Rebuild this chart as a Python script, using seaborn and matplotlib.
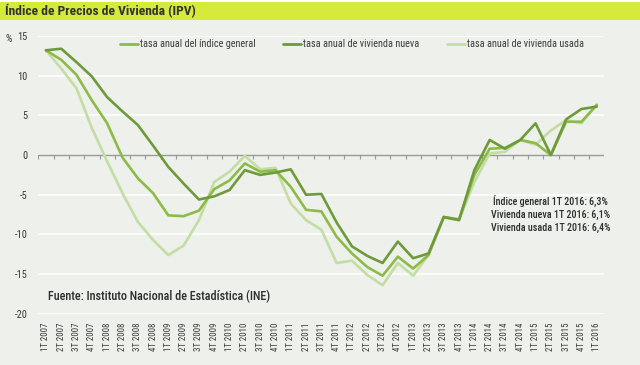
import os
import matplotlib
matplotlib.use("Agg")
import matplotlib.pyplot as plt
from matplotlib.lines import Line2D
from matplotlib.patches import Rectangle
from matplotlib import font_manager
from matplotlib.font_manager import FontProperties
import numpy as np
import pandas as pd
import seaborn as sns

# ---------------- data ----------------
quarters = [f"{q}T {y}" for y in range(2007, 2017) for q in (1, 2, 3, 4)][:37]

general = [13.2, 12.0, 10.1, 6.9, 4.0, -0.3, -2.9, -4.8, -7.6, -7.7, -7.0, -4.3,
           -3.2, -1.05, -2.1, -1.9, -4.0, -6.9, -7.1, -10.3, -12.4, -14.1, -15.2, -12.8,
           -14.3, -12.6, -7.8, -8.1, -2.5, 0.8, 0.9, 1.9, 1.5, 0.0, 4.2, 4.2, 6.3]
nueva = [13.2, 13.4, 11.7, 9.9, 7.3, 5.5, 3.8, 1.2, -1.5, -3.6, -5.6, -5.2,
         -4.4, -1.9, -2.5, -2.2, -1.8, -5.0, -4.9, -8.5, -11.5, -12.7, -13.6, -10.9,
         -13.0, -12.4, -7.8, -8.2, -1.9, 1.9, 0.8, 1.9, 4.0, 0.0, 4.5, 5.8, 6.1]
usada = [13.2, 10.9, 8.4, 3.4, -0.8, -4.8, -8.4, -10.7, -12.6, -11.4, -8.2, -3.4,
         -2.1, -0.1, -1.8, -1.6, -6.1, -8.2, -9.4, -13.6, -13.3, -15.1, -16.4, -13.6,
         -15.2, -12.6, -7.9, -8.2, -3.4, 0.2, 0.4, 1.9, 1.3, 3.1, 4.4, 4.0, 6.4]

series_names = ["tasa anual del índice general", "tasa anual de vivienda nueva",
                "tasa anual de vivienda usada"]
yticks = [-20, -15, -10, -5, 0, 5, 10, 15]
title = "Índice de Precios de Vivienda (IPV)"
source = "Fuente: Instituto Nacional de Estadística (INE)"
note = "Índice general 1T 2016: 6,3%\nVivienda nueva 1T 2016: 6,1%\nVivienda usada 1T 2016: 6,4%"

# ---------------- style ----------------
BG = "#EEF0EC"
C_GEN = "#8CBB48"
C_NEW = "#6E9A3A"
C_OLD = "#C3DDA3"
TXT = "#3A3A3A"

sns.set_theme(style="white")
plt.rcParams["font.family"] = ["Roboto", "DejaVu Sans"]

# look for a condensed font file
files = {os.path.basename(f.fname): f.fname for f in font_manager.fontManager.ttflist}
def pick(names):
    for n in names:
        if n in files:
            return files[n]
    return None

reg_path = pick(["LiberationSansNarrow-Regular.ttf", "NotoSans-Condensed.ttf",
                 "NotoSans-CondensedRegular.ttf", "RobotoCondensed-Regular.ttf",
                 "DejaVuSansCondensed.ttf"])
bold_path = pick(["LiberationSansNarrow-Bold.ttf", "NotoSans-CondensedBold.ttf",
                  "RobotoCondensed-Bold.ttf", "DejaVuSansCondensed-Bold.ttf"])
med_path = pick(["NotoSans-CondensedMedium.ttf", "NotoSans-CondensedSemiBold.ttf",
                 "RobotoCondensed-Medium.ttf"]) or reg_path

def fp(size, kind="reg"):
    path = {"reg": reg_path, "bold": bold_path, "med": med_path}[kind]
    if path:
        return FontProperties(fname=path, size=size)
    return FontProperties(family=["Roboto", "DejaVu Sans"], size=size * 0.85,
                          weight="bold" if kind == "bold" else ("medium" if kind == "med" else "normal"))

df = pd.DataFrame({"q": np.arange(len(quarters)), "general": general,
                   "nueva": nueva, "usada": usada})

fig = plt.figure(figsize=(6.4, 3.65), dpi=100, facecolor=BG)
ax = fig.add_axes([38.3 / 640, 1 - 313.8 / 365, (604.4 - 38.3) / 640, (313.8 - 36) / 365])
ax.set_facecolor(BG)

# banner
fig.patches.append(Rectangle((0, 1 - 20 / 365), 1, 18 / 365, transform=fig.transFigure,
                             facecolor="#D6EA3C", edgecolor="none", zorder=0))
fig.patches.append(Rectangle((0, 1 - 2 / 365), 1, 2 / 365, transform=fig.transFigure,
                             facecolor="white", edgecolor="none", zorder=0))
fig.text(5 / 640, 1 - 11.5 / 365, title, fontproperties=fp(9.7, "bold"), color="#333333",
         va="center", ha="left")
fig.text(5 / 640, 1 - 39 / 365, "%", fontproperties=fp(7.5), color=TXT, va="center", ha="left")

# gridlines
for v in yticks:
    if v != 0:
        ax.axhline(v, color="white", lw=1.1, zorder=1)

# lines
lw = 1.9
sns.lineplot(data=df, x="q", y="usada", ax=ax, color=C_OLD, lw=lw, zorder=3)
sns.lineplot(data=df, x="q", y="general", ax=ax, color=C_GEN, lw=lw, zorder=4)
sns.lineplot(data=df, x="q", y="nueva", ax=ax, color=C_NEW, lw=lw, zorder=5)
for l in ax.lines:
    l.set_solid_joinstyle("round")
    l.set_solid_capstyle("round")

# zero axis with ticks
n = len(quarters)
ax.axhline(0, color="#9A9A9A", lw=1.0, zorder=2)
bounds = np.arange(n + 1) - 0.5
ax.vlines(bounds, -0.5, 0, color="#9A9A9A", lw=0.8, zorder=2)

ax.set_xlim(-0.5, n - 0.5)
ax.set_ylim(-20, 15)
ax.set_yticks(yticks)
ax.set_yticklabels([str(v) for v in yticks], color=TXT)
ax.set_xticks(np.arange(n))
ax.set_xticklabels(quarters, rotation=90, color=TXT)
for lbl in ax.get_yticklabels():
    lbl.set_fontproperties(fp(7.5))
for lbl in ax.get_xticklabels():
    lbl.set_fontproperties(fp(6.4))
ax.tick_params(axis="x", length=0, pad=6)
ax.tick_params(axis="y", length=0, pad=8)
ax.set_xlabel("")
ax.set_ylabel("")
for s in ax.spines.values():
    s.set_visible(False)

# legend
handles = [Line2D([], [], color=c, lw=2) for c in (C_GEN, C_NEW, C_OLD)]
leg = ax.legend(handles, series_names, loc="center", bbox_to_anchor=(0.554, 0.971),
                ncol=3, frameon=False, prop=fp(7.3), handlelength=1.8, handletextpad=0.2,
                columnspacing=2.7, labelcolor=TXT)

# background block behind the note (hides the gridline there)
ax.add_patch(Rectangle((28.4, -11.0), n - 0.5 - 28.4, 2.0, facecolor=BG, edgecolor="none",
                       zorder=1.5))
ax.text(33.0, -7.4, note, ha="center", va="center", multialignment="center",
        fontproperties=fp(7.2, "med"), color="#2E2E2E", linespacing=1.35, zorder=6)
ax.text(0.15, -17.8, source, ha="left", va="center", fontproperties=fp(8.7, "med"),
        color="#2E2E2E")

fig.savefig("out.png", dpi=100, facecolor=BG)
